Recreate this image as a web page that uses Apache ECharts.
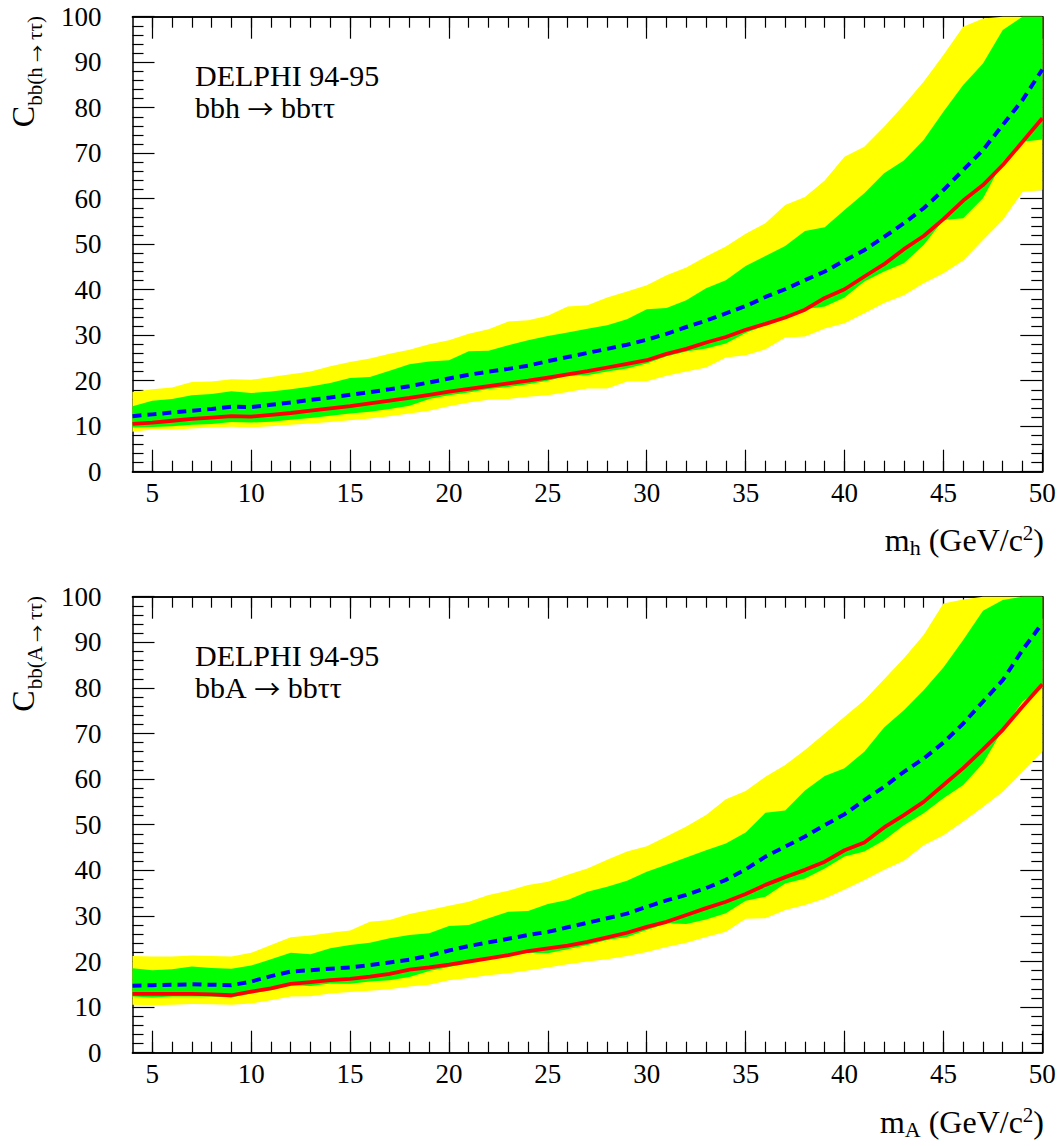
<!DOCTYPE html>
<html>
<head>
<meta charset="utf-8">
<script src="https://cdn.jsdelivr.net/npm/echarts@6/dist/echarts.min.js"></script>
<style>
  html, body { margin: 0; padding: 0; background: #ffffff; }
  #chart { width: 1064px; height: 1146px; }
</style>
</head>
<body>
<div id="chart"></div>
<script>
// Higgs mass points (GeV/c^2)
const masses = [4, 5, 6, 7, 8, 9, 10, 11, 12, 13, 14, 15, 16, 17, 18, 19, 20, 21, 22, 23, 24, 25, 26,
  27, 28, 29, 30, 31, 32, 33, 34, 35, 36, 37, 38, 39, 40, 41, 42, 43, 44, 45, 46, 47, 48, 49, 50];

// bbh -> bb tau tau : observed limit, median expected, 1 and 2 sigma bands
const obsH = [10.5, 10.8, 11.2, 11.6, 11.9, 12.2, 12.1, 12.5, 12.9, 13.4, 13.9, 14.4, 15.0, 15.6, 16.2, 16.9,
  17.6, 18.2, 18.8, 19.4, 20.0, 20.7, 21.4, 22.1, 22.9, 23.7, 24.5, 25.9, 27.0, 28.4, 29.6, 31.2, 32.5, 33.9,
  35.6, 38.2, 40.1, 42.9, 45.6, 48.9, 51.8, 55.5, 59.6, 63.0, 67.4, 72.5, 77.7];
const expH = [12.2, 12.6, 13.0, 13.4, 13.8, 14.3, 14.2, 14.7, 15.2, 15.8, 16.3, 16.9, 17.5, 18.1, 18.8, 19.6,
  20.5, 21.3, 22.0, 22.6, 23.3, 24.3, 25.2, 26.1, 27.0, 27.9, 29.0, 30.3, 31.8, 33.2, 34.8, 36.4, 38.4, 40.1,
  42.1, 44.0, 46.4, 48.7, 51.6, 54.6, 57.9, 61.9, 66.3, 70.7, 76.2, 81.7, 88.4];
const sig1LoH = [9.7, 9.8, 10.0, 10.3, 10.5, 10.9, 10.8, 11.0, 11.4, 11.8, 12.3, 12.8, 13.2, 13.8, 14.5, 16.0,
  16.8, 17.4, 18.2, 18.6, 19.2, 20.0, 21.1, 21.2, 22.0, 22.7, 23.8, 25.4, 26.4, 27.1, 28.2, 30.5, 32.2, 33.7,
  35.7, 36.3, 38.3, 41.8, 44.0, 45.8, 49.8, 55.3, 55.7, 60.1, 68.1, 72.5, 73.0];
const sig1HiH = [14.4, 15.6, 16.0, 16.8, 17.1, 17.7, 17.3, 17.6, 18.1, 18.7, 19.5, 20.6, 20.8, 22.2, 23.6, 24.2,
  24.5, 26.5, 26.6, 27.8, 28.9, 29.8, 30.6, 31.4, 32.2, 33.5, 35.7, 36.0, 37.7, 40.3, 42.1, 45.2, 47.4, 49.6,
  52.9, 53.7, 57.5, 61.2, 65.6, 68.4, 72.9, 79.1, 85.0, 89.7, 97.1, 100, 100];
const sig2LoH = [8.8, 9.3, 9.2, 9.5, 9.7, 9.9, 9.7, 10.0, 10.3, 10.6, 10.9, 11.3, 11.7, 12.2, 12.8, 13.4,
  14.4, 15.2, 15.8, 16.0, 16.5, 16.8, 17.5, 18.3, 18.3, 19.8, 19.9, 21.1, 22.0, 22.9, 25.1, 25.6, 26.9, 29.5,
  29.7, 31.5, 32.6, 34.8, 37.1, 38.8, 41.4, 43.6, 46.4, 50.9, 55.3, 61.5, 61.9];
const sig2HiH = [17.5, 18.1, 18.5, 19.7, 19.8, 20.3, 20.2, 20.8, 21.4, 22.0, 23.2, 24.1, 24.9, 25.9, 26.8, 28.0,
  28.9, 30.3, 31.3, 33.0, 33.3, 34.3, 36.3, 36.6, 38.3, 39.6, 41.0, 43.2, 44.9, 47.3, 49.5, 52.3, 54.6, 58.6,
  60.4, 64.0, 69.2, 71.4, 75.8, 80.6, 85.7, 91.6, 97.8, 99.6, 100, 100, 100];

// bbA -> bb tau tau
const obsA = [12.9, 12.9, 12.9, 12.9, 12.8, 12.6, 13.4, 14.1, 15.1, 15.5, 15.9, 16.2, 16.7, 17.3, 18.2, 18.7,
  19.3, 20.0, 20.7, 21.4, 22.3, 22.9, 23.5, 24.3, 25.3, 26.3, 27.6, 28.7, 30.2, 31.7, 33.1, 34.8, 36.8, 38.5,
  40.1, 41.9, 44.4, 46.1, 49.4, 52.1, 55.0, 58.7, 62.4, 66.5, 70.8, 75.9, 80.8];
const expA = [14.7, 14.8, 14.9, 15.0, 14.9, 14.8, 15.6, 16.8, 17.8, 18.1, 18.4, 18.7, 19.2, 19.8, 20.4, 21.3,
  22.4, 23.4, 24.2, 25.0, 25.8, 26.5, 27.5, 28.5, 29.5, 30.5, 32.0, 33.4, 34.6, 36.1, 37.9, 40.2, 43.0, 45.2,
  47.4, 49.9, 52.3, 55.4, 58.3, 61.6, 64.5, 68.0, 72.2, 77.0, 81.7, 88.3, 94.2];
const sig1LoA = [12.3, 12.1, 12.3, 12.3, 12.3, 12.1, 13.0, 13.7, 14.8, 14.6, 15.2, 15.1, 15.6, 15.9, 16.6, 17.9,
  18.8, 19.6, 20.7, 21.2, 21.9, 21.8, 22.7, 23.6, 24.7, 25.4, 26.9, 28.4, 28.2, 29.2, 30.6, 33.3, 34.2, 37.1,
  38.2, 40.4, 43.0, 44.1, 46.6, 49.9, 52.5, 55.8, 58.7, 63.5, 70.8, 77.0, 80.0];
const sig1HiA = [18.5, 18.1, 18.3, 18.9, 18.6, 18.4, 19.1, 20.5, 21.9, 21.6, 22.9, 23.6, 24.1, 25.1, 25.8, 26.2,
  27.8, 28.0, 29.5, 30.9, 31.1, 32.6, 33.5, 35.3, 36.4, 37.7, 39.7, 41.2, 42.8, 44.4, 45.9, 48.3, 52.6, 53.1,
  57.5, 60.7, 62.4, 66.0, 71.3, 75.1, 79.5, 84.5, 90.5, 96.9, 99.3, 100, 100];
const sig2LoA = [10.5, 10.4, 10.5, 10.7, 10.6, 10.5, 10.8, 11.5, 12.3, 12.4, 13.0, 13.3, 13.6, 13.9, 14.5, 14.9,
  15.9, 16.4, 17.0, 17.4, 18.0, 18.7, 19.4, 20.0, 20.5, 21.2, 22.1, 23.2, 24.1, 25.4, 26.5, 29.4, 29.5, 31.3,
  32.4, 33.8, 35.8, 37.9, 40.1, 42.1, 45.5, 47.7, 50.7, 53.9, 57.2, 61.6, 66.0];
const sig2HiA = [21.2, 21.1, 21.1, 21.3, 21.2, 21.1, 21.9, 23.6, 25.3, 25.7, 26.3, 26.8, 28.7, 29.1, 30.4, 31.3,
  32.2, 33.1, 34.6, 35.5, 36.8, 37.5, 39.0, 40.4, 42.3, 44.1, 45.3, 47.4, 49.6, 52.1, 55.6, 57.4, 60.5, 63.1,
  66.4, 70.0, 73.7, 77.3, 81.9, 86.5, 91.6, 98.5, 99.4, 100, 100, 100, 100];

// axis ticks
const majorTicksX = [5, 10, 15, 20, 25, 30, 35, 40, 45, 50];
const minorTicksX = [5, 6, 7, 8, 9, 10, 11, 12, 13, 14, 15, 16, 17, 18, 19, 20, 21, 22, 23, 24, 25, 26, 27,
  28, 29, 30, 31, 32, 33, 34, 35, 36, 37, 38, 39, 40, 41, 42, 43, 44, 45, 46, 47, 48, 49];

const SERIF = '"Liberation Serif", "Times New Roman", serif';
const ARROW_FONT = '"Noto Sans CJK JP", "DejaVu Sans", sans-serif';
const BLACK = '#000000';
const frameLine = { show: true, lineStyle: { color: BLACK, width: 1.5 } };

function xAxesFor(gridIndex) {
  const base = { type: 'value', gridIndex: gridIndex, min: 4, max: 50, axisLine: frameLine,
    splitLine: { show: false }, offset: 0 };
  const major = { show: true, inside: true, length: 22, customValues: majorTicksX,
    lineStyle: { color: BLACK, width: 1.2 } };
  const minor = { show: true, inside: true, length: 11, customValues: minorTicksX,
    lineStyle: { color: BLACK, width: 1.2 } };
  return [
    Object.assign({}, base, { position: 'bottom', axisTick: major,
      axisLabel: { show: true, customValues: majorTicksX, margin: 8, color: BLACK,
        fontFamily: SERIF, fontSize: 27 } }),
    Object.assign({}, base, { position: 'bottom', axisTick: minor, axisLabel: { show: false } }),
    Object.assign({}, base, { position: 'top', axisTick: major, axisLabel: { show: false } }),
    Object.assign({}, base, { position: 'top', axisTick: minor, axisLabel: { show: false } })
  ];
}

function yAxesFor(gridIndex) {
  const base = { type: 'value', gridIndex: gridIndex, min: 0, max: 100, interval: 10,
    axisLine: frameLine, splitLine: { show: false },
    axisTick: { show: true, inside: true, length: 22, lineStyle: { color: BLACK, width: 1.2 } },
    minorTick: { show: true, splitNumber: 5, length: 11, lineStyle: { color: BLACK, width: 1.2 } } };
  return [
    Object.assign({}, base, { position: 'left',
      axisLabel: { show: true, margin: 31, color: BLACK, fontFamily: SERIF, fontSize: 27,
        showMinLabel: true, showMaxLabel: true } }),
    Object.assign({}, base, { position: 'right', axisLabel: { show: false } })
  ];
}

function pairs(values) {
  return masses.map((m, i) => [m, values[i]]);
}

// A filled band between two limit curves, drawn as one polygon in data coordinates.
function bandSeries(xi, yi, lo, hi, color) {
  return {
    type: 'custom', xAxisIndex: xi, yAxisIndex: yi, silent: true, animation: false,
    data: masses.map((m, i) => [m, lo[i], hi[i]]),
    encode: { x: 0, y: [1, 2] },
    renderItem: function (params, api) {
      if (params.dataIndex !== 0) return null;
      const upper = masses.map((m, i) => api.coord([m, hi[i]]));
      const lower = masses.map((m, i) => api.coord([m, lo[i]])).reverse();
      return { type: 'polygon', shape: { points: upper.concat(lower) },
        style: { fill: color, stroke: null } };
    }
  };
}

function panelSeries(xi, yi, obs, exp, s1lo, s1hi, s2lo, s2hi, tag) {
  const common = { type: 'line', xAxisIndex: xi, yAxisIndex: yi, symbol: 'none', silent: true,
    animation: false };
  return [
    bandSeries(xi, yi, s2lo, s2hi, '#ffff00'),
    bandSeries(xi, yi, s1lo, s1hi, '#00ff00'),
    Object.assign({}, common, { name: tag + ' expected', data: pairs(exp),
      lineStyle: { color: '#0000ff', width: 4, type: [9, 6] } }),
    Object.assign({}, common, { name: tag + ' observed', data: pairs(obs),
      lineStyle: { color: '#ff0000', width: 3.8 } })
  ];
}

function yTitle(top, boson) {
  return {
    type: 'text', x: 1, y: top, rotation: Math.PI / 2,
    style: {
      text: '{c|C}{s|bb(' + boson + ' }{a|\u2192}{s| \u03c4\u03c4)}',
      align: 'right', verticalAlign: 'top', textAlign: 'right', textVerticalAlign: 'top',
      fill: BLACK,
      rich: {
        c: { fontFamily: SERIF, fontSize: 32, lineHeight: 44, fill: BLACK },
        s: { fontFamily: SERIF, fontSize: 21, lineHeight: 20, verticalAlign: 'bottom', fill: BLACK },
        a: { fontFamily: ARROW_FONT, fontSize: 17, lineHeight: 20, verticalAlign: 'bottom', fill: BLACK }
      }
    }
  };
}

function xTitle(top, boson) {
  return {
    type: 'text', x: 1044, y: top,
    style: {
      text: '{m|m}{s|' + boson + '}{m| (GeV/c}{p|2}{m|)}',
      align: 'right', verticalAlign: 'top', textAlign: 'right', textVerticalAlign: 'top',
      fill: BLACK,
      rich: {
        m: { fontFamily: SERIF, fontSize: 32, lineHeight: 36, fill: BLACK },
        s: { fontFamily: SERIF, fontSize: 22, lineHeight: 20, verticalAlign: 'bottom', fill: BLACK },
        p: { fontFamily: SERIF, fontSize: 21, lineHeight: 20, verticalAlign: 'top', fill: BLACK }
      }
    }
  };
}

// Two-line experiment / channel annotation
function note(x, y, channel) {
  return { type: 'text', x: x, y: y,
    style: { text: '{t|DELPHI 94-95}\n{t|' + channel + ' }{a|\u2192}{t| bb\u03c4\u03c4}', fill: BLACK,
      align: 'left', verticalAlign: 'top', textAlign: 'left', textVerticalAlign: 'top',
      rich: {
        t: { fontFamily: SERIF, fontSize: 30, lineHeight: 32, fill: BLACK },
        a: { fontFamily: ARROW_FONT, fontSize: 26, lineHeight: 32, fill: BLACK }
      } } };
}

const chart = echarts.init(document.getElementById('chart'), null, { renderer: 'svg' });
chart.setOption({
  animation: false,
  backgroundColor: '#ffffff',
  grid: [
    { left: 132.5, right: 21.7, top: 16.7, height: 455 },
    { left: 132.5, right: 21.7, top: 596.7, height: 456 }
  ],
  xAxis: xAxesFor(0).concat(xAxesFor(1)),
  yAxis: yAxesFor(0).concat(yAxesFor(1)),
  series: panelSeries(0, 0, obsH, expH, sig1LoH, sig1HiH, sig2LoH, sig2HiH, 'h')
    .concat(panelSeries(4, 2, obsA, expA, sig1LoA, sig1HiA, sig2LoA, sig2HiA, 'A')),
  graphic: [
    note(195, 59, 'bbh'),
    note(195, 639, 'bbA'),
    yTitle(16, 'h'),
    yTitle(596, 'A'),
    xTitle(522, 'h'),
    xTitle(1104, 'A')
  ]
});
</script>
</body>
</html>
